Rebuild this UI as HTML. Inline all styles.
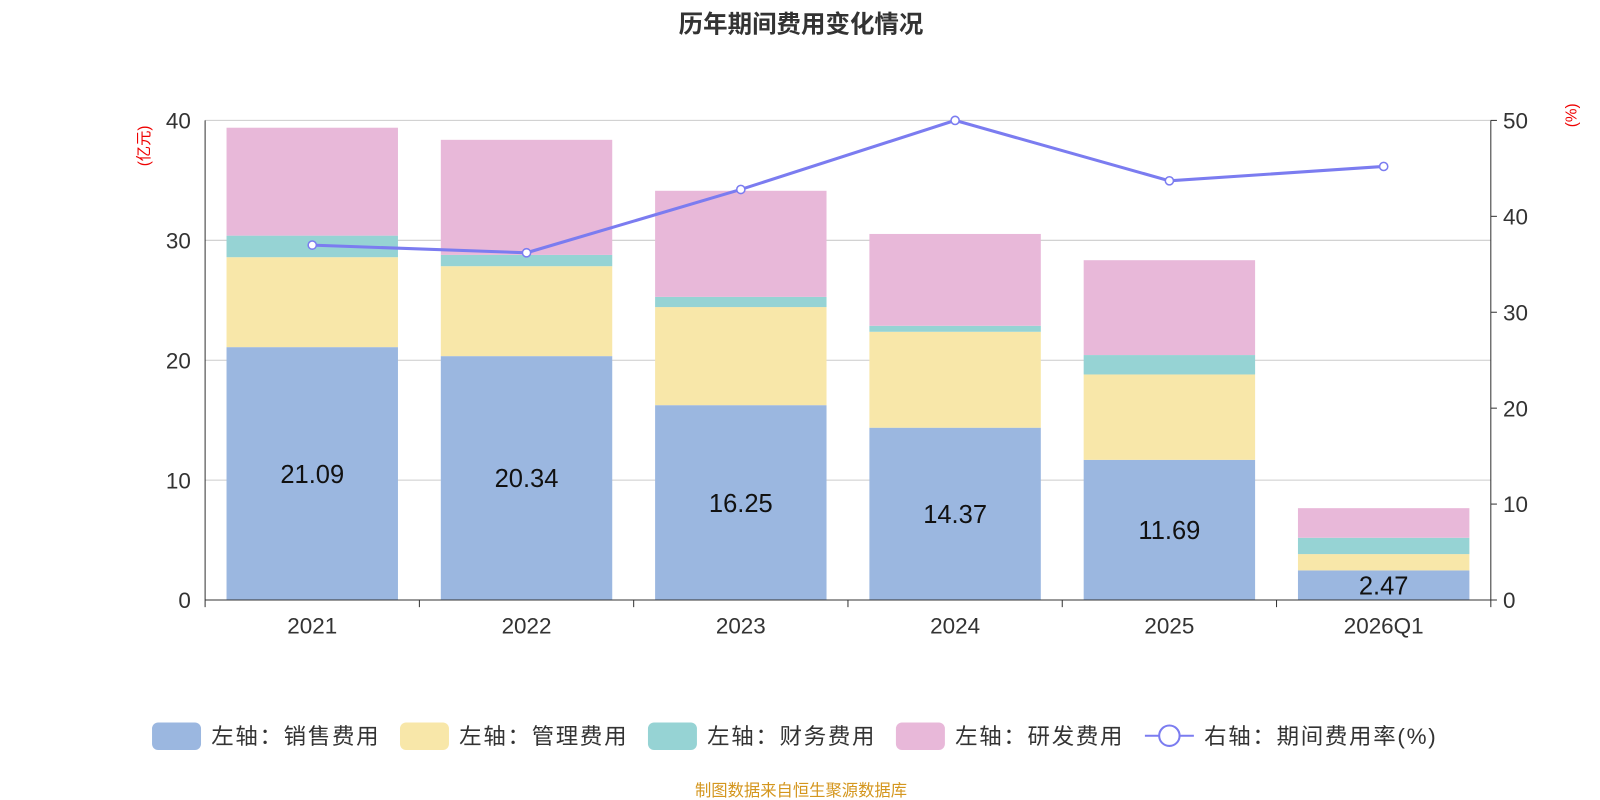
<!DOCTYPE html>
<html><head><meta charset="utf-8">
<style>
body{margin:0;background:#fff;}
svg{display:block;font-family:"Liberation Sans","Noto Sans CJK SC",sans-serif;}
</style></head>
<body>
<svg id="chart" width="1600" height="800" viewBox="0 0 1568 784">
<text x="785" y="32" text-anchor="middle" font-size="24" font-weight="bold" fill="#333">历年期间费用变化情况</text>
<text transform="translate(146,143) rotate(-90)" text-anchor="middle" font-size="15" fill="#e00">(亿元)</text>
<text transform="translate(1545,113) rotate(-90)" text-anchor="middle" font-size="15" fill="#e00">(%)</text>
<g id="grid"></g><g id="bars"></g><g id="axes"></g><g id="line"></g>
<g id="legend" font-size="22" fill="#333">
<rect x="149" y="708" width="48" height="27" rx="6" fill="#9bb7e0"/>
<text x="207" y="729" textLength="164">左轴：销售费用</text>
<rect x="392" y="708" width="48" height="27" rx="6" fill="#f8e7a9"/>
<text x="450" y="729" textLength="164">左轴：管理费用</text>
<rect x="635" y="708" width="48" height="27" rx="6" fill="#96d3d4"/>
<text x="693" y="729" textLength="164">左轴：财务费用</text>
<rect x="878" y="708" width="48" height="27" rx="6" fill="#e8b8d9"/>
<text x="936" y="729" textLength="164">左轴：研发费用</text>
<line x1="1122" y1="721" x2="1170" y2="721" stroke="#7b7cf0" stroke-width="2"/>
<circle cx="1146" cy="721" r="10" fill="#fff" stroke="#7b7cf0" stroke-width="2"/>
<text x="1180" y="729" textLength="227">右轴：期间费用率(%)</text>
</g>
<text x="785" y="780" text-anchor="middle" font-size="16" fill="#d4961e">制图数据来自恒生聚源数据库</text>
</svg>
<script>
const categories=["2021","2022","2023","2024","2025","2026Q1"];
const sales=[21.09,20.34,16.25,14.37,11.69,2.47];
const admin=[7.5,7.5,8.18,8.0,7.12,1.36];
const finance=[1.8,0.94,0.85,0.5,1.62,1.36];
const rd=[9.0,9.6,8.85,7.66,7.91,2.47];
const rate=[37.0,36.2,42.8,50.0,43.7,45.2];
const leftTicks=[0,10,20,30,40];
const rightTicks=[0,10,20,30,40,50];
const NS="http://www.w3.org/2000/svg";
const X0=201,X1=1461,Y0=588,Y1=118;
const band=(X1-X0)/categories.length;
const xc=i=>X0+band*(i+0.5);
const yl=v=>Y0-(v/40)*(Y0-Y1);
const yr=v=>Y0-(v/50)*(Y0-Y1);
function mk(tag,attrs,parent){const e=document.createElementNS(NS,tag);for(const k in attrs)e.setAttribute(k,attrs[k]);document.getElementById(parent).appendChild(e);return e;}
leftTicks.forEach(t=>{
 if(t>0){const g=mk('line',{x1:X0,x2:X1,y1:yl(t),y2:yl(t),stroke:'#ccc','stroke-width':1},'grid');
 
 }
 const tx=mk('text',{x:X0-14,y:yl(t)+8,'text-anchor':'end','font-size':22,fill:'#333'},'axes');tx.textContent=t;
 
 
});
rightTicks.forEach(t=>{
 const tx=mk('text',{x:X1+12,y:yr(t)+8,'font-size':22,fill:'#333'},'axes');tx.textContent=t;
 
 
 const tk=mk('line',{x1:X1,x2:X1+6,y1:yr(t),y2:yr(t),stroke:'#333'},'axes');
 
 
});
let a=mk('line',{x1:X0,x2:X0,y1:Y1,y2:Y0,stroke:'#333'},'axes');


a=mk('line',{x1:X1,x2:X1,y1:Y1,y2:Y0,stroke:'#333'},'axes');


a=mk('line',{x1:X0,x2:X1,y1:Y0,y2:Y0,stroke:'#333'},'axes');


for(let i=0;i<=categories.length;i++){
 const tk=mk('line',{x1:X0+band*i,x2:X0+band*i,y1:Y0,y2:Y0+7,stroke:'#333'},'axes');
 
 
}
const series=[[sales,'#9bb7e0','sales'],[admin,'#f8e7a9','admin'],[finance,'#96d3d4','finance'],[rd,'#e8b8d9','rd']];
const bw=168;
categories.forEach((c,i)=>{
 let base=0;
 series.forEach(([arr,col,nm])=>{
  const r=mk('rect',{x:xc(i)-bw/2,y:yl(base+arr[i]),width:bw,height:yl(base)-yl(base+arr[i]),fill:col},'bars');
  
  
  base+=arr[i];
 });
 const lb=mk('text',{x:xc(i),y:(yl(0)+yl(sales[i]))/2+9,'text-anchor':'middle','font-size':25,fill:'#111'},'bars');lb.textContent=sales[i].toFixed(2);
 
 
 const xl=mk('text',{x:xc(i),y:Y0+33,'text-anchor':'middle','font-size':22,fill:'#333'},'axes');xl.textContent=c;
 
 
});
const pl=mk('polyline',{points:rate.map((v,i)=>xc(i)+','+yr(v)).join(' '),fill:'none',stroke:'#7b7cf0','stroke-width':3},'line');


rate.forEach((v,i)=>{
 const p=mk('circle',{cx:xc(i),cy:yr(v),r:4,fill:'#fff',stroke:'#7b7cf0','stroke-width':1.5},'line');
 
 
});
</script>
</body></html>
